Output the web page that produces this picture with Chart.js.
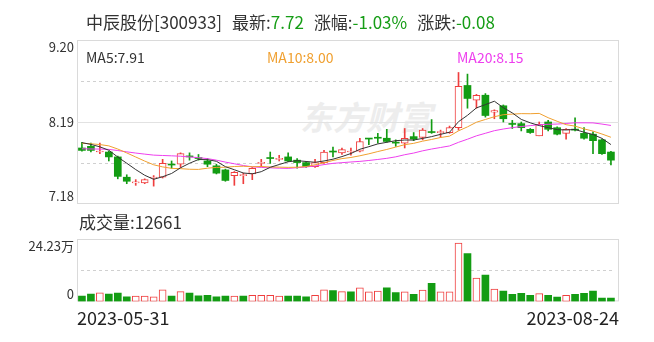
<!DOCTYPE html>
<html>
<head>
<meta charset="utf-8">
<script src="https://cdn.jsdelivr.net/npm/chart.js@4.4.0/dist/chart.umd.min.js"></script>
<style>
  body { margin: 0; background: #fff; font-family: "Noto Sans CJK SC", "Noto Sans", sans-serif; color: #333; }
  #wrap { position: relative; width: 654px; height: 342px; overflow: hidden; }
  .abs { position: absolute; white-space: nowrap; line-height: 1; }
  #head { left: 86px; top: 13px; font-size: 17px; }
  #head .g { color: #169d16; }
  #head .gap { display: inline-block; width: 10px; }
  .ma { top: 50px; font-size: 14px; }
  #wm { left: 300px; top: 100px; font-size: 33px; font-weight: bold; font-style: italic; color: #ededed; }
  #volTitle { left: 79px; top: 213px; font-size: 17px; }
  canvas { position: absolute; left: 0; }
</style>
</head>
<body>
<div id="wrap">
  <div id="wm" class="abs">东方财富</div>
  <canvas id="price" width="654" height="210" style="top:0"></canvas>
  <canvas id="vol" width="654" height="110" style="top:232px"></canvas>
  <div id="head" class="abs"></div>
  <div id="ma5" class="abs ma" style="left:86px;color:#333"></div>
  <div id="ma10" class="abs ma" style="left:267px;color:#f0a030"></div>
  <div id="ma20" class="abs ma" style="left:457px;color:#ee3fee"></div>
  <div id="volTitle" class="abs"></div>
</div>
<script>
const stockName = '中辰股份';
const stockCode = '300933';

// daily candles, 2023-05-31 .. 2023-08-24 (60 trading days)
const opens = [7.87, 7.89, 7.82, 7.82, 7.76, 7.51, 7.44, 7.44, 7.50, 7.51,
               7.67, 7.67, 7.77, 7.75, 7.71, 7.65, 7.60, 7.53, 7.53, 7.55,
               7.68, 7.75, 7.73, 7.76, 7.72, 7.69, 7.64, 7.69, 7.83, 7.81,
               7.82, 7.83, 7.99, 8.00, 7.99, 7.94, 7.93, 8.01, 8.00, 8.07,
               8.06, 8.06, 8.12, 8.64, 8.46, 8.52, 8.31, 8.39, 8.17, 8.17,
               8.10, 8.02, 8.19, 8.12, 8.05, 8.10, 8.05, 8.04, 7.97, 7.82];
const closes = [7.84, 7.84, 7.83, 7.76, 7.52, 7.46, 7.45, 7.48, 7.51, 7.68,
                7.66, 7.80, 7.76, 7.74, 7.67, 7.56, 7.47, 7.57, 7.54, 7.62,
                7.69, 7.74, 7.74, 7.71, 7.69, 7.64, 7.69, 7.82, 7.82, 7.85,
                7.83, 7.95, 7.98, 7.99, 7.95, 7.93, 7.99, 7.98, 8.09, 8.06,
                8.07, 8.12, 8.63, 8.48, 8.52, 8.27, 8.33, 8.23, 8.16, 8.12,
                8.06, 8.16, 8.10, 8.04, 8.10, 8.09, 7.99, 7.96, 7.80, 7.72];
const highs = [7.94, 7.93, 7.93, 7.83, 7.77, 7.54, 7.48, 7.49, 7.53, 7.73,
               7.71, 7.81, 7.81, 7.79, 7.74, 7.67, 7.61, 7.58, 7.56, 7.63,
               7.73, 7.82, 7.78, 7.81, 7.74, 7.70, 7.73, 7.84, 7.88, 7.87,
               7.87, 7.99, 7.99, 8.05, 8.10, 7.97, 8.11, 8.06, 8.11, 8.22,
               8.09, 8.14, 8.80, 8.78, 8.53, 8.54, 8.34, 8.40, 8.21, 8.19,
               8.11, 8.19, 8.21, 8.13, 8.11, 8.24, 8.12, 8.07, 7.98, 7.83];
const lows = [7.83, 7.82, 7.80, 7.71, 7.49, 7.43, 7.41, 7.43, 7.40, 7.50,
              7.62, 7.63, 7.72, 7.72, 7.64, 7.55, 7.46, 7.41, 7.43, 7.48,
              7.64, 7.68, 7.71, 7.70, 7.62, 7.63, 7.63, 7.68, 7.76, 7.79,
              7.78, 7.82, 7.91, 7.93, 7.94, 7.89, 7.87, 7.96, 7.97, 8.05,
              8.00, 8.05, 8.09, 8.36, 8.36, 8.25, 8.23, 8.19, 8.11, 8.08,
              8.05, 8.02, 8.08, 8.03, 7.98, 8.08, 7.98, 7.80, 7.79, 7.66];
const volumes = [21000, 28500, 33000, 28500, 32000, 18000, 21000, 21000, 18000, 45000,
                 21000, 38000, 32000, 22000, 24000, 18000, 21000, 21000, 21000, 24000,
                 24000, 24000, 21000, 21000, 21000, 18000, 24000, 45000, 42000, 38000,
                 37000, 53000, 37000, 40000, 53000, 34000, 37000, 27000, 44000, 70000,
                 37000, 37000, 226000, 186000, 91000, 102000, 48000, 40000, 27000, 31000,
                 24000, 30000, 24000, 17000, 24000, 27000, 31000, 40000, 13000, 12661];
// 1 = red (up) volume bar, 0 = green
const volUp = [0, 0, 1, 0, 0, 0, 1, 1, 1, 1,
               0, 1, 0, 0, 0, 0, 0, 1, 0, 1,
               1, 1, 1, 0, 0, 0, 1, 1, 0, 1,
               0, 1, 1, 1, 0, 0, 1, 0, 1, 0,
               1, 1, 1, 0, 1, 0, 1, 0, 0, 0,
               0, 1, 0, 0, 1, 0, 0, 0, 0, 0];
// closes of the 19 sessions before the window, for the moving averages
const priorCloses = [7.88, 7.86, 7.84, 7.80, 7.78, 7.75, 7.74, 7.76, 7.77, 7.74,
                     7.90, 7.93, 7.92, 7.91, 7.94, 7.95, 7.98, 7.97, 7.94];

const priceTicks = ['9.20', '8.19', '7.18'];
const volTicks = ['24.23万', '0'];
const volMax = 242300;
const dateLabels = ['2023-05-31', '2023-08-24'];

const RED = '#ef3e3e';
const GREEN = '#139c13';
const FONT = '"Noto Sans CJK SC", "Noto Sans", sans-serif';

const allCloses = priorCloses.concat(closes);
function movingAvg(n) {
  return closes.map((c, i) => {
    const end = priorCloses.length + i + 1;
    return allCloses.slice(end - n, end).reduce((a, b) => a + b, 0) / n;
  });
}
const ma5 = movingAvg(5), ma10 = movingAvg(10), ma20 = movingAvg(20);
const idx = closes.map((c, i) => i);
const isUp = closes.map((c, i) => c >= opens[i]);

// header texts
const last = closes[closes.length - 1];
const prev = closes[closes.length - 2];
const chg = last - prev;
document.getElementById('head').innerHTML =
  stockName + '[' + stockCode + ']<span class="gap"></span>最新:<span class="g">' + last.toFixed(2) +
  '</span><span class="gap"></span>涨幅:<span class="g">' + (chg / prev * 100).toFixed(2) + '%' +
  '</span><span class="gap"></span>涨跌:<span class="g">' + chg.toFixed(2) + '</span>';
document.getElementById('ma5').textContent = 'MA5:' + ma5[59].toFixed(2);
document.getElementById('ma10').textContent = 'MA10:' + ma10[59].toFixed(2);
document.getElementById('ma20').textContent = 'MA20:' + ma20[59].toFixed(2);
document.getElementById('volTitle').textContent = '成交量:' + volumes[volumes.length - 1];

// box, grid lines and inside-aligned y labels
function panelDecor(tickValues, tickTexts, dashedAt, solidAt) {
  return {
    id: 'panelDecor',
    beforeDatasetsDraw(chart) {
      const {ctx, chartArea: a} = chart;
      ctx.save();
      ctx.lineWidth = 1;
      ctx.strokeStyle = '#dadada';
      ctx.strokeRect(a.left + 0.5, a.top + 0.5, a.width - 1, a.height - 1);
      ctx.strokeStyle = '#e2e2e2';
      solidAt.forEach(f => {
        const y = Math.round(a.top + a.height * f) + 0.5;
        ctx.beginPath(); ctx.moveTo(a.left, y); ctx.lineTo(a.right, y); ctx.stroke();
      });
      ctx.strokeStyle = '#d0d0d0';
      ctx.setLineDash([3, 3]);
      dashedAt.forEach(f => {
        const y = Math.round(a.top + a.height * f) + 0.5;
        ctx.beginPath(); ctx.moveTo(a.left + 4, y); ctx.lineTo(a.right - 4, y); ctx.stroke();
      });
      ctx.restore();
    },
    afterDraw(chart) {
      const {ctx, chartArea: a, scales} = chart;
      ctx.save();
      ctx.font = '13px ' + FONT;
      ctx.fillStyle = '#333';
      ctx.textAlign = 'right';
      tickValues.forEach((v, i) => {
        ctx.textBaseline = i === 0 ? 'top' : (i === tickValues.length - 1 ? 'bottom' : 'middle');
        const y = scales.y.getPixelForValue(v) + (i === 0 ? 1 : (i === tickValues.length - 1 ? -1 : 0));
        ctx.fillText(tickTexts[i], a.left - 3, y);
      });
      ctx.restore();
    }
  };
}

const xRange = {min: -0.55, max: 59.9};

new Chart(document.getElementById('price'), {
  type: 'bar',
  data: {
    datasets: [
      {type: 'line', data: idx.map(i => ({x: i, y: ma5[i]})), borderColor: '#333', borderWidth: 1, pointRadius: 0, order: 0},
      {type: 'line', data: idx.map(i => ({x: i, y: ma10[i]})), borderColor: '#f0a030', borderWidth: 1, pointRadius: 0, order: 0},
      {type: 'line', data: idx.map(i => ({x: i, y: ma20[i]})), borderColor: '#ee3fee', borderWidth: 1, pointRadius: 0, order: 0},
      {
        data: idx.map(i => ({x: i, y: [opens[i], closes[i]]})),
        backgroundColor: isUp.map(u => u ? '#fff' : GREEN),
        borderColor: isUp.map(u => u ? RED : GREEN),
        borderWidth: isUp.map(u => u ? 1 : 0),
        borderSkipped: false,
        barThickness: 7,
        minBarLength: 1,
        grouped: false,
        order: 1
      },
      {
        data: idx.map(i => ({x: i, y: [lows[i], highs[i]]})),
        backgroundColor: isUp.map(u => u ? RED : GREEN),
        borderWidth: 0,
        barThickness: 1,
        grouped: false,
        order: 2
      }
    ]
  },
  options: {
    responsive: false,
    animation: false,
    devicePixelRatio: 1,
    layout: {padding: {left: 77, right: 35, top: 40, bottom: 6}},
    plugins: {legend: {display: false}, tooltip: {enabled: false}},
    scales: {
      x: {type: 'linear', min: xRange.min, max: xRange.max, offset: false, display: false},
      y: {min: parseFloat(priceTicks[2]), max: parseFloat(priceTicks[0]), display: false}
    }
  },
  plugins: [panelDecor(priceTicks.map(parseFloat), priceTicks, [0.25, 0.75], [0.5])]
});

new Chart(document.getElementById('vol'), {
  type: 'bar',
  data: {
    datasets: [{
      data: idx.map(i => ({x: i, y: volumes[i]})),
      backgroundColor: volUp.map(u => u ? '#fff' : GREEN),
      borderColor: volUp.map(u => u ? RED : GREEN),
      borderWidth: volUp.map(u => u ? 1 : 0),
      borderSkipped: false,
      barThickness: 7
    }]
  },
  options: {
    responsive: false,
    animation: false,
    devicePixelRatio: 1,
    layout: {padding: {left: 77, right: 35, top: 7, bottom: 7}},
    plugins: {legend: {display: false}, tooltip: {enabled: false}},
    scales: {
      x: {
        type: 'linear', min: xRange.min, max: xRange.max, offset: false,
        grid: {display: false, drawTicks: false},
        border: {display: false},
        afterBuildTicks: ax => { ax.ticks = [{value: ax.min}, {value: ax.max}]; },
        ticks: {
          align: 'inner', maxRotation: 0, autoSkip: false, padding: 6, color: '#222',
          font: {size: 18, family: FONT},
          callback: (v, i) => dateLabels[i]
        }
      },
      y: {min: 0, max: volMax, display: false}
    }
  },
  plugins: [panelDecor([volMax, 0], volTicks, [0.5], [])]
});
</script>
</body>
</html>
